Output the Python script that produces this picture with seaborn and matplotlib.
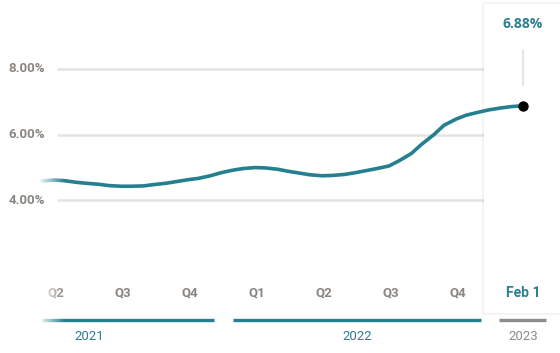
import numpy as np
import pandas as pd
import matplotlib
matplotlib.use("Agg")
import matplotlib.pyplot as plt
import seaborn as sns
from matplotlib.patches import Rectangle

# ---- data ----
dates = ["2021-04-15", "2021-05-01", "2021-05-15", "2021-06-01", "2021-06-15",
         "2021-07-01", "2021-07-15", "2021-08-01", "2021-08-15", "2021-09-01",
         "2021-09-15", "2021-10-01", "2021-10-15", "2021-11-01", "2021-11-15",
         "2021-12-01", "2021-12-15", "2022-01-01", "2022-01-15", "2022-02-01",
         "2022-02-15", "2022-03-01", "2022-03-15", "2022-04-01", "2022-04-15",
         "2022-05-01", "2022-05-15", "2022-06-01", "2022-06-15", "2022-07-01",
         "2022-07-15", "2022-08-01", "2022-08-15", "2022-09-01", "2022-09-15",
         "2022-10-01", "2022-10-15", "2022-11-01", "2022-11-15", "2022-12-01",
         "2022-12-15", "2023-01-01", "2023-01-15", "2023-02-01"]
rates = [4.58, 4.61, 4.59, 4.54, 4.51,
         4.48, 4.44, 4.42, 4.42, 4.43,
         4.47, 4.51, 4.56, 4.62, 4.66,
         4.74, 4.83, 4.91, 4.96, 4.99,
         4.98, 4.94, 4.88, 4.82, 4.77,
         4.74, 4.75, 4.78, 4.83, 4.90,
         4.96, 5.04, 5.20, 5.42, 5.70,
         5.99, 6.28, 6.47, 6.59, 6.68,
         6.75, 6.81, 6.85, 6.88]
quarter_starts = ["2021-04-01", "2021-07-01", "2021-10-01", "2022-01-01",
                  "2022-04-01", "2022-07-01", "2022-10-01"]
quarter_labels = ["Q2", "Q3", "Q4", "Q1", "Q2", "Q3", "Q4"]
year_labels = ["2021", "2022", "2023"]
ytick_values = [4, 6, 8]
last_label = "Feb 1"
last_value_label = "6.88%"

TEAL = "#247f8f"
TEAL_TXT = "#2b7f93"
GRAY_TXT = "#8a8580"

sns.set_theme(style="white")
plt.rcParams['font.family'] = ['Roboto', 'DejaVu Sans']


def to_month(d):
    d = pd.to_datetime(d)
    return (d.year - 2021) * 12 + (d.month - 1) + (d.day - 1) / 30.5


df = pd.DataFrame({"date": dates, "rate": rates})
df["m"] = df["date"].map(to_month)

W, H = 560, 353
PXM = 22.33      # pixels per month
PXV = 32.75      # pixels per percentage point
m_last = df["m"].iloc[-1]
v_last = df["rate"].iloc[-1]


def X(px):
    return m_last + (px - 523) / PXM


def Y(py):
    return 4 + (200 - py) / PXV


fig = plt.figure(figsize=(W / 100, H / 100), dpi=100)
ax = fig.add_axes([0, 0, 1, 1])
ax.set_xlim(X(0), X(W))
ax.set_ylim(Y(H), Y(0))

# gridlines and y labels
ax.hlines(ytick_values, X(57), X(484), color="#e4e4e4", lw=1.8, zorder=1)
for v in ytick_values:
    ax.text(X(45), v, f"{v:.2f}%", ha="right", va="center", color=GRAY_TXT,
            fontsize=9.5, fontweight="bold")

# right highlight panel with soft shadow
for i, a in enumerate([0.010, 0.015, 0.022]):
    off = 3 - i
    ax.add_patch(Rectangle((X(484 - off), Y(313 + off)), X(W + 10) - X(484 - off),
                           Y(4 - off) - Y(313 + off), facecolor="#000000",
                           alpha=a, edgecolor="none", zorder=2))
ax.add_patch(Rectangle((X(484), Y(313)), X(W + 10) - X(484), Y(4) - Y(313),
                       facecolor="white", edgecolor="none", zorder=2.1))

# the line
sns.lineplot(data=df, x="m", y="rate", color=TEAL, lw=2.6, ax=ax, zorder=3)
ax.lines[-1].set_solid_joinstyle("round")
ax.scatter([m_last], [v_last], s=42, color="black", zorder=5)
ax.plot([m_last, m_last], [Y(50), Y(85)], color="#e6e6e6", lw=1.5, zorder=3)
ax.text(m_last, Y(24), last_value_label, ha="center", va="center",
        color=TEAL_TXT, fontsize=10, fontweight="bold", family=["Open Sans"])

# quarter labels
for qs, lab in zip(quarter_starts, quarter_labels):
    pos = to_month(pd.to_datetime(qs) + pd.Timedelta(days=33))
    ax.text(pos, Y(293), lab, ha="center", va="center", color=GRAY_TXT,
            fontsize=9.5, fontweight="bold")
ax.text(m_last, Y(293), last_label, ha="center", va="center", color=TEAL_TXT,
        fontsize=10, fontweight="bold")

# year bands
yr_y = Y(320)
ax.plot([X(42), X(214)], [yr_y, yr_y], color=TEAL, lw=2.4, solid_capstyle="butt")
ax.plot([to_month("2022-01-01"), X(481)], [yr_y, yr_y], color=TEAL, lw=2.4,
        solid_capstyle="butt")
ax.plot([X(499), X(546)], [yr_y, yr_y], color="#8c8c8c", lw=2.4,
        solid_capstyle="butt")
ax.text((to_month("2021-01-01") + X(214)) / 2, Y(336), year_labels[0],
        ha="center", va="center", color=TEAL_TXT, fontsize=9.5)
ax.text((to_month("2022-01-01") + X(481)) / 2, Y(336), year_labels[1],
        ha="center", va="center", color=TEAL_TXT, fontsize=9.5)
ax.text(m_last, Y(336), year_labels[2], ha="center", va="center",
        color="#8c8c8c", fontsize=9.5)

# left fade
grad = np.ones((2, 64, 4))
grad[..., 3] = np.linspace(1, 0, 64)[None, :]
for top, bot in [(165, 195), (280, 328)]:
    ax.imshow(grad, extent=(X(38), X(64), Y(bot), Y(top)), aspect="auto",
              zorder=6, interpolation="bilinear")

ax.set_xlim(X(0), X(W))
ax.set_ylim(Y(H), Y(0))
ax.axis("off")
fig.savefig("out.png", dpi=100)
